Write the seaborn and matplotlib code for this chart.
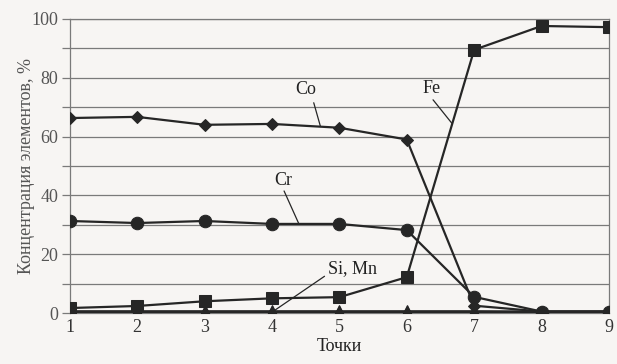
import numpy as np
import pandas as pd
import matplotlib
matplotlib.use('Agg')
import matplotlib.pyplot as plt
import seaborn as sns

# данные
points = [1, 2, 3, 4, 5, 6, 7, 8, 9]
co = [66.3, 66.7, 64.0, 64.3, 63.0, 59.0, 2.5, 0.5, 0.5]
cr = [31.3, 30.6, 31.3, 30.3, 30.3, 28.2, 5.5, 0.5, 0.5]
fe = [1.7, 2.4, 4.0, 5.0, 5.4, 12.2, 89.5, 97.6, 97.2]
si = [0.6, 0.6, 0.6, 0.6, 0.6, 0.6, 0.6, 0.5, 0.5]
mn = [0.4, 0.4, 0.4, 0.4, 0.4, 0.4, 0.4, 0.4, 0.4]

sns.set_theme(style='white')
plt.rcParams['font.family'] = ['Liberation Serif', 'DejaVu Serif']

fig = plt.figure(figsize=(6.17, 3.64), dpi=100)
fig.patch.set_facecolor('#f7f5f3')
ax = fig.add_axes([0.113, 0.140, 0.874, 0.808])
ax.set_facecolor('#f7f5f3')

line_col = '#262626'
series = [
    (co, 'D', 6),
    (cr, 'o', 9),
    (fe, 's', 9),
    (si, '^', 8),
    (mn, '^', 8),
]
for vals, mk, ms in series:
    df = pd.DataFrame({'x': points, 'y': vals})
    sns.lineplot(data=df, x='x', y='y', ax=ax, color=line_col, linewidth=1.6,
                 marker=mk, markersize=ms, markeredgecolor=line_col,
                 markerfacecolor=line_col, zorder=3)

ax.set_xlim(1, 9)
ax.set_ylim(0, 100)
ax.set_xticks(points)
ax.set_yticks(np.arange(0, 101, 20))
ax.set_yticks(np.arange(0, 101, 10), minor=True)
ax.grid(axis='y', which='both', color='#7a7a7a', linewidth=0.9, zorder=0)
ax.tick_params(axis='y', which='both', direction='out', length=6, width=0.9,
               color='#7a7a7a', left=True, labelsize=13, labelcolor='#555555', pad=2)
ax.tick_params(axis='x', length=0, labelsize=13, labelcolor='#333333', pad=4)
for side in ['left', 'right', 'top', 'bottom']:
    ax.spines[side].set_color('#7a7a7a')
    ax.spines[side].set_linewidth(0.9)

ax.set_xlabel('Точки', fontsize=13, color='#222222', labelpad=2)
ax.set_ylabel('Концентрация элементов, %', fontsize=13, color='#555555', labelpad=-2)

# подписи кривых
txt = dict(fontsize=13, color='#222222', ha='center', va='center')
ax.text(4.5, 76, 'Co', **txt)
ax.plot([4.62, 4.72], [71.5, 63.4], color=line_col, linewidth=0.9)
ax.text(4.17, 45, 'Cr', **txt)
ax.plot([4.18, 4.4], [41.5, 30.3], color=line_col, linewidth=0.9)
ax.text(5.2, 15, 'Si, Mn', **txt)
ax.plot([4.78, 4.02], [12.5, 0.6], color=line_col, linewidth=0.9)
ax.text(6.37, 76.5, 'Fe', **txt)
ax.plot([6.39, 6.67], [72.5, 64.5], color=line_col, linewidth=0.9)

fig.savefig('out.png', dpi=100)
